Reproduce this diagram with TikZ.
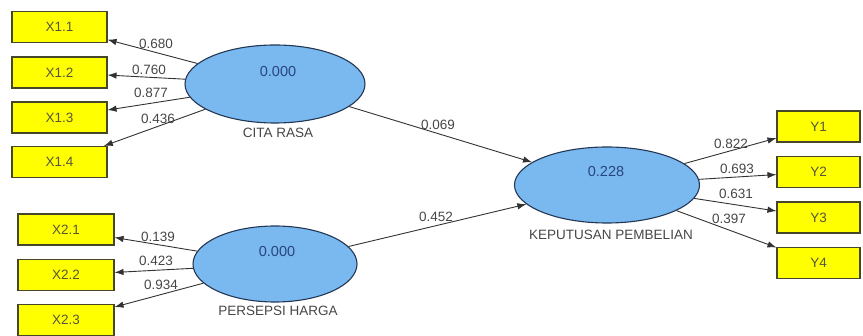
\documentclass[tikz,border=0pt]{standalone}
\usepackage{fontspec}
\setmainfont{Liberation Sans}
\usepackage{tikz}
\usetikzlibrary{arrows.meta}
\usetikzlibrary{shapes.geometric}
\definecolor{lvblue}{RGB}{122,184,240}
\definecolor{lvline}{RGB}{35,55,85}
\definecolor{lvtext}{RGB}{40,70,125}
\definecolor{mvyellow}{RGB}{255,255,0}
\definecolor{mvline}{RGB}{70,70,40}
\definecolor{mvtext}{RGB}{85,85,60}
\definecolor{wtext}{RGB}{70,70,70}
\definecolor{conncol}{RGB}{50,50,50}
\tikzstyle{latent}=[ellipse, draw=lvline, line width=1.1pt, fill=lvblue, inner sep=0pt]
\tikzstyle{indic}=[rectangle, draw=mvline, line width=1.1pt, fill=mvyellow,
    minimum height=31pt, text=mvtext, font=\fontsize{13.5}{15}\selectfont]
\tikzstyle{lvval}=[text=lvtext, font=\fontsize{14.5}{16}\selectfont]
\tikzstyle{lvname}=[text=wtext, font=\fontsize{13.5}{15}\selectfont]
\tikzstyle{wgt}=[text=wtext, font=\fontsize{13.5}{15}\selectfont]
\tikzstyle{conn}=[draw=conncol, line width=0.9pt, -{Latex[length=9pt,width=6.5pt]}]

\begin{document}
\begin{tikzpicture}[x=1pt, y=-1pt]
\useasboundingbox (0,0) rectangle (863,336);
% latent variables
\node[latent, minimum width=180pt, minimum height=78pt] (cr) at (275,84){};
\node[lvval] (crval) at (278,72){0.000};
\node[lvname] (crname) at (278,133){CITA RASA};
\node[latent, minimum width=164pt, minimum height=76pt] (ph) at (275,264){};
\node[lvval] (phval) at (277,252){0.000};
\node[lvname] (phname) at (278,311){PERSEPSI HARGA};
\node[latent, minimum width=185pt, minimum height=76pt] (kp) at (607,185){};
\node[lvval] (kpval) at (606,172){0.228};
\node[lvname] (kpname) at (611,235){KEPUTUSAN PEMBELIAN};
% indicators
\node[indic, minimum width=95pt] (x11) at (59.5,27){X1.1};
\node[indic, minimum width=95pt] (x12) at (59.5,72.5){X1.2};
\node[indic, minimum width=95pt] (x13) at (59.5,117.5){X1.3};
\node[indic, minimum width=95pt] (x14) at (59.5,162){X1.4};
\node[indic, minimum width=96pt] (x21) at (66,229.5){X2.1};
\node[indic, minimum width=96pt] (x22) at (66,275){X2.2};
\node[indic, minimum width=96pt] (x23) at (66,320){X2.3};
\node[indic, minimum width=83pt] (y1) at (818.5,126.5){Y1};
\node[indic, minimum width=83pt] (y2) at (818.5,172){Y2};
\node[indic, minimum width=83pt] (y3) at (818.5,217.5){Y3};
\node[indic, minimum width=83pt] (y4) at (818.5,263){Y4};
% loadings
\draw[conn](cr) -- (x11);
\draw[conn](cr) -- (x12);
\draw[conn](cr) -- (x13);
\draw[conn](cr) -- (x14);
\draw[conn](ph) -- (x21);
\draw[conn](ph) -- (x22);
\draw[conn](ph) -- (x23);
\draw[conn](kp) -- (y1);
\draw[conn](kp) -- (y2);
\draw[conn](kp) -- (y3);
\draw[conn](kp) -- (y4);
% paths
\draw[conn](cr) -- (kp);
\draw[conn](ph) -- (kp);
% weights
\node[wgt] (w11) at (156,44){0.680};
\node[wgt] (w12) at (149,70){0.760};
\node[wgt] (w13) at (151,93){0.877};
\node[wgt] (w14) at (158,119){0.436};
\node[wgt] (w21) at (158,237){0.139};
\node[wgt] (w22) at (156,261){0.423};
\node[wgt] (w23) at (161,285){0.934};
\node[wgt] (wy1) at (731,144){0.822};
\node[wgt] (wy2) at (737,169){0.693};
\node[wgt] (wy3) at (736,194){0.631};
\node[wgt] (wy4) at (729,219){0.397};
\node[wgt] (wcr) at (438,125){0.069};
\node[wgt] (wph) at (436,217){0.452};
\end{tikzpicture}
\end{document}
